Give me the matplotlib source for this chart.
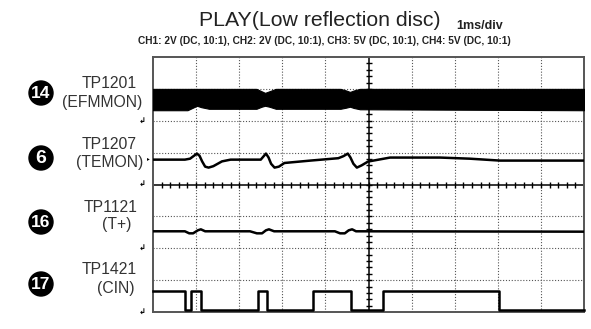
import matplotlib
matplotlib.use("Agg")
import matplotlib.pyplot as plt
from matplotlib.patches import Ellipse
import numpy as np

# ---------------- data ----------------
title = "PLAY(Low reflection disc)"
timebase = "1ms/div"
settings = "CH1: 2V (DC, 10:1), CH2: 2V (DC, 10:1), CH3: 5V (DC, 10:1), CH4: 5V (DC, 10:1)"

channel_numbers = ["14", "6", "16", "17"]
channel_tp = ["TP1201", "TP1207", "TP1121", "TP1421"]
channel_names = ["(EFMMON)", "(TEMON)", "(T+)", "(CIN)"]
ground_div = [6, 4, 2, 0]          # ground marker position (divisions from bottom)
volts_per_div = [2, 2, 5, 5]

# CH1 EFMMON: envelope of the HF band (ms, V)
efm_t = [0.0, 0.8, 0.95, 1.02, 1.12, 1.3, 2.4, 2.52, 2.6, 2.7, 2.85,
         4.35, 4.48, 4.57, 4.66, 4.8, 10.0]
efm_upper = [2.0, 2.0, 2.0, 2.0, 2.0, 2.0, 2.0, 1.85, 1.75, 1.85, 2.0,
             2.0, 1.9, 1.81, 1.9, 2.0, 2.0]
efm_lower = [0.66, 0.66, 0.85, 0.94, 0.85, 0.75, 0.75, 0.88, 0.94, 0.88, 0.75,
             0.75, 0.82, 0.88, 0.8, 0.72, 0.66]

# CH2 TEMON (ms, V)
temon_t = [0.0, 0.74, 0.86, 0.95, 1.02, 1.08, 1.14, 1.21, 1.29, 1.40, 1.60, 1.80,
           2.50, 2.56, 2.62, 2.68, 2.74, 2.82, 2.92, 3.05, 3.65, 4.30,
           4.42, 4.52, 4.58, 4.65, 4.73, 4.84, 4.99, 5.50, 6.66, 7.35, 8.05, 10.0]
temon_v = [1.56, 1.56, 1.62, 1.80, 1.94, 1.80, 1.45, 1.12, 1.06, 1.15, 1.45, 1.56,
           1.56, 1.75, 1.94, 1.70, 1.30, 1.06, 1.12, 1.35, 1.50, 1.65,
           1.78, 1.94, 1.70, 1.30, 1.06, 1.20, 1.44, 1.69, 1.69, 1.62, 1.50, 1.50]

# CH3 T+ (ms, V)
tplus_t = [0.0, 0.74, 0.84, 0.93, 1.04, 1.11, 1.21, 2.25, 2.41, 2.53, 2.62, 2.69,
           2.81, 4.22, 4.34, 4.45, 4.54, 4.62, 4.71, 10.0]
tplus_v = [2.66, 2.66, 2.34, 2.34, 2.81, 2.97, 2.66, 2.66, 2.34, 2.34, 2.81, 2.97,
           2.66, 2.66, 2.34, 2.34, 2.81, 2.97, 2.66, 2.60]

# CH4 CIN: square wave edges (ms, V) - step-post
cin_t = [0.0, 0.74, 0.88, 1.11, 2.44, 2.65, 3.71, 4.59, 5.34, 8.03, 10.0]
cin_v = [3.28, 0.31, 3.28, 0.31, 3.28, 0.31, 3.28, 0.31, 3.28, 0.31, 0.31]

# ---------------- figure ----------------
W, H = 591, 329
fig = plt.figure(figsize=(W / 100, H / 100), dpi=100)
fig.patch.set_facecolor("white")

L, R, T, B = 153, 584, 57, 312
ax = fig.add_axes([L / W, 1 - B / H, (R - L) / W, (B - T) / H])
ax.set_xlim(0, 10)
ax.set_ylim(0, 8)
ax.set_xticks([])
ax.set_yticks([])
for s in ax.spines.values():
    s.set_color("#555555")
    s.set_linewidth(1.4)

grid_kw = dict(color="#555555", lw=0.8, ls=(0, (1, 1.6)), zorder=1)
for gx in range(1, 10):
    if gx != 5:
        ax.axvline(gx, **grid_kw)
for gy in range(1, 8):
    if gy != 4:
        ax.axhline(gy, **grid_kw)

# centre graticule with minor ticks
ax.axhline(4, color="black", lw=1.1, zorder=2)
ax.axvline(5, color="black", lw=1.1, zorder=2)
mt = np.arange(0.2, 10, 0.2)
ax.plot(mt, np.full_like(mt, 4), ls="none", marker="|", ms=5, mew=1.0, color="black", zorder=2)
mv = np.arange(0.2, 8, 0.2)
ax.plot(np.full_like(mv, 5), mv, ls="none", marker="_", ms=5, mew=1.0, color="black", zorder=2)

def to_div(v, ch):
    return ground_div[ch] + np.asarray(v, float) / volts_per_div[ch]

# CH1 band
ax.fill_between(efm_t, to_div(efm_upper, 0), to_div(efm_lower, 0),
                color="black", lw=0.8, edgecolor="black", zorder=3)
# CH2
ax.plot(temon_t, to_div(temon_v, 1), color="black", lw=1.8, zorder=3)
# CH3
ax.plot(tplus_t, to_div(tplus_v, 2), color="black", lw=1.8, zorder=3)
# CH4
ax.plot(cin_t, to_div(cin_v, 3), color="black", lw=1.8, drawstyle="steps-post",
        zorder=3, clip_on=False)

# ground markers at left
for ch in range(4):
    ax.annotate("\u21b2", xy=(0, ground_div[ch]), xycoords="data",
                xytext=(-8, 0), textcoords="offset points",
                ha="center", va="center", fontsize=6, fontweight="bold",
                color="black", annotation_clip=False)
ax.annotate("\u25b8", xy=(0, to_div(1.56, 1)), xytext=(-3, 1),
            textcoords="offset points", ha="center", va="center",
            fontsize=4, color="black", annotation_clip=False)

# ---------------- texts ----------------
sans = ["Liberation Sans", "DejaVu Sans"]
fig.text(320 / W, 1 - 21 / H, title, ha="center", va="center",
         fontsize=15.3, family=sans, color="#222222")
fig.text(480 / W, 1 - 26 / H, timebase, ha="center", va="center",
         fontsize=9, fontweight="bold", family=sans, color="#222222")

ch_txt = fig.text(324 / W, 1 - 41 / H, settings, ha="center", va="center",
                  fontsize=9, fontweight="bold", family=sans, color="#222222")
fig.canvas.draw()
bb = ch_txt.get_window_extent()
ch_txt.set_fontsize(9 * 376 / bb.width)

label_tp_pos = [(137, 83), (137, 145), (137, 207), (137, 270)]
label_nm_pos = [(142, 102), (143, 163), (131, 225), (135, 289)]
circle_pos = [(41, 93), (41, 158), (41, 222), (41, 284)]
for i in range(4):
    x, y = label_tp_pos[i]
    fig.text(x / W, 1 - y / H, channel_tp[i], ha="right", va="center",
             fontsize=11.3, family=sans, color="#333333")
    x, y = label_nm_pos[i]
    fig.text(x / W, 1 - y / H, channel_names[i], ha="right", va="center",
             fontsize=11.3, family=sans, color="#333333")
    cx, cy = circle_pos[i]
    d = 24
    fig.add_artist(Ellipse((cx / W, 1 - cy / H), d / W, d / H,
                           transform=fig.transFigure, facecolor="black",
                           edgecolor="black"))
    fig.text(cx / W, 1 - (cy + 0.5) / H, channel_numbers[i], ha="center",
             va="center", fontsize=12.5 if len(channel_numbers[i]) == 2 else 14,
             fontweight="bold", family=sans, color="white")

fig.savefig("out.png", dpi=100, facecolor="white")
